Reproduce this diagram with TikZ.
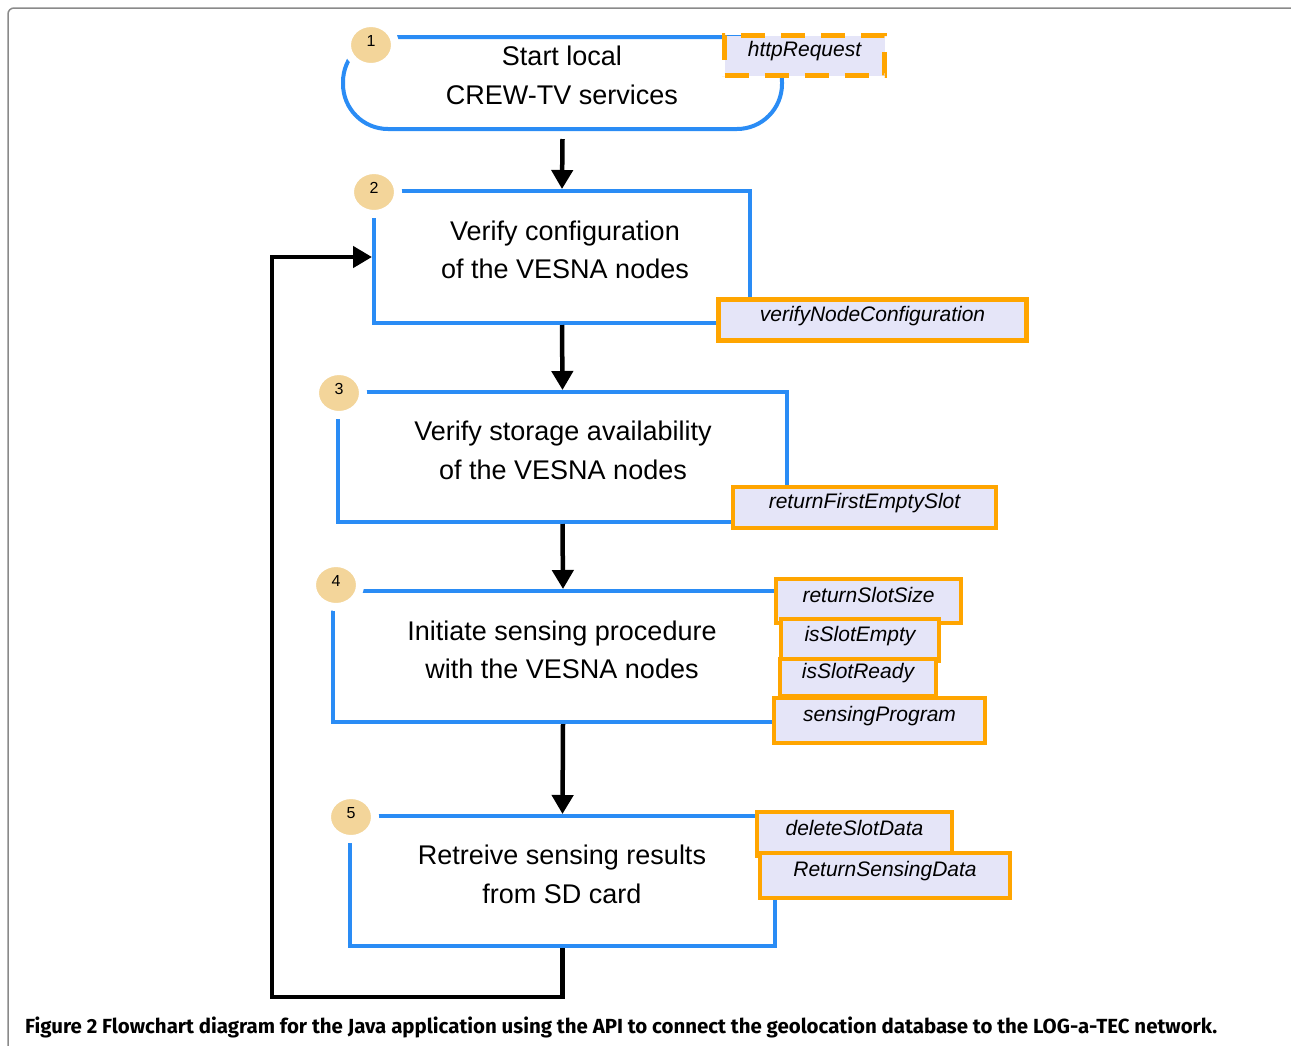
\documentclass[tikz,border=0pt]{standalone}
\usepackage{fontspec}
\usepackage{graphicx}
\setmainfont{Liberation Sans}
\newfontfamily\capfont{Fira Sans}
\usetikzlibrary{arrows.meta,shapes.geometric}
\definecolor{boxblue}{HTML}{2A8CF5}
\definecolor{mborder}{HTML}{FFA500}
\definecolor{mfill}{HTML}{E5E5F8}
\definecolor{numfill}{HTML}{F3D59A}
\definecolor{framegray}{HTML}{8A8A8A}
\begin{document}
\begin{tikzpicture}[x=1pt,y=-1pt,
  stepbox/.style={draw=boxblue, line width=4pt, rectangle, inner sep=0pt, fill=white},
  maintext/.style={align=center, font=\fontsize{27}{38.5}\selectfont, inner sep=0pt},
  method/.style={draw=mborder, fill=mfill, line width=4.5pt, inner sep=0pt,
    font=\fontsize{21}{25}\selectfont\itshape, text height=15pt, text depth=13pt},
  num/.style={ellipse, fill=numfill, draw=white, line width=8pt, minimum width=48pt,
    minimum height=44pt, inner sep=0pt, font=\fontsize{16}{18}\selectfont,
    text height=11.5pt, text depth=8pt},
  arr/.style={line width=4.5pt, -{Triangle[length=19pt,width=21pt]}, line join=miter}]
\useasboundingbox (0,0) rectangle (1291,1045);
% frame
\draw[framegray, line width=1.5pt, rounded corners=6pt] (8,1046) -- (8,8) -- (1291,8);

% step boxes
\node[stepbox, rounded corners=45pt, minimum width=439pt, minimum height=92pt] (s1) at (562.5,83) {};
\node[stepbox, minimum width=376pt, minimum height=132pt] (b2) at (562,257) {};
\node[stepbox, minimum width=449pt, minimum height=130pt] (b3) at (562.5,457) {};
\node[stepbox, minimum width=460pt, minimum height=131pt] (b4) at (563,656.5) {};
\node[stepbox, minimum width=425pt, minimum height=130pt] (b5) at (562.5,881) {};

% texts
\node[maintext] (t1) at (562,75.5) {Start local\\CREW-TV services};
\node[maintext] (t2) at (565,250) {Verify configuration\\of the VESNA nodes};
\node[maintext] (t3) at (563,450.5) {Verify storage availability\\of the VESNA nodes};
\node[maintext] (t4) at (562,650) {Initiate sensing procedure\\with the VESNA nodes};
\node[maintext] (t5) at (562,874.5) {Retreive sensing results\\from SD card};

% number circles
\node[num] (n1) at (371,45) {1};
\node[num] (n2) at (374,192) {2};
\node[num] (n3) at (339,393) {3};
\node[num] (n4) at (336,585) {4};
\node[num] (n5) at (351,817) {5};

% methods
\node[method, dash pattern=on 24pt off 16pt, minimum width=160pt, minimum height=40pt] (http) at (804.5,55.5) {httpRequest};
\node[method, minimum width=308pt, minimum height=41pt] (m1) at (872.5,320) {verifyNodeConfiguration};
\node[method, minimum width=263pt, minimum height=41pt] (m2) at (864.5,507.5) {returnFirstEmptySlot};
\node[method, minimum width=185pt, minimum height=44pt] (m3) at (868.5,601) {returnSlotSize};
\node[method, minimum width=158pt, minimum height=42pt] (m4) at (860,640) {isSlotEmpty};
\node[method, minimum width=156pt, minimum height=37pt] (m5) at (858,677.5) {isSlotReady};
\node[method, minimum width=211pt, minimum height=45pt] (m6) at (879.5,720.5) {sensingProgram};
\node[method, minimum width=195pt, minimum height=44pt] (m7) at (854.5,834) {deleteSlotData};
\node[method, minimum width=250pt, minimum height=45pt] (m8) at (885,875.5) {ReturnSensingData};

% arrows
\draw[arr] ([yshift=-8pt]s1.south) -- (b2.north);
\draw[arr] (b2.south) -- (b3.north);
\draw[arr] (b3.south) -- (b4.north);
\draw[arr] (b4.south) -- (b5.north);
\coordinate (fb) at (272,997);
\draw[arr] (b5.south) |- (fb) |- (b2.west);

% caption
\node[anchor=base west, inner sep=0pt, font=\capfont\bfseries\fontsize{18}{22}\selectfont] (cap) at (25,1033)
  {\resizebox{1192pt}{!}{Figure 2 Flowchart diagram for the Java application using the API to connect the geolocation database to the LOG-a-TEC network.}};
\end{tikzpicture}
\end{document}
